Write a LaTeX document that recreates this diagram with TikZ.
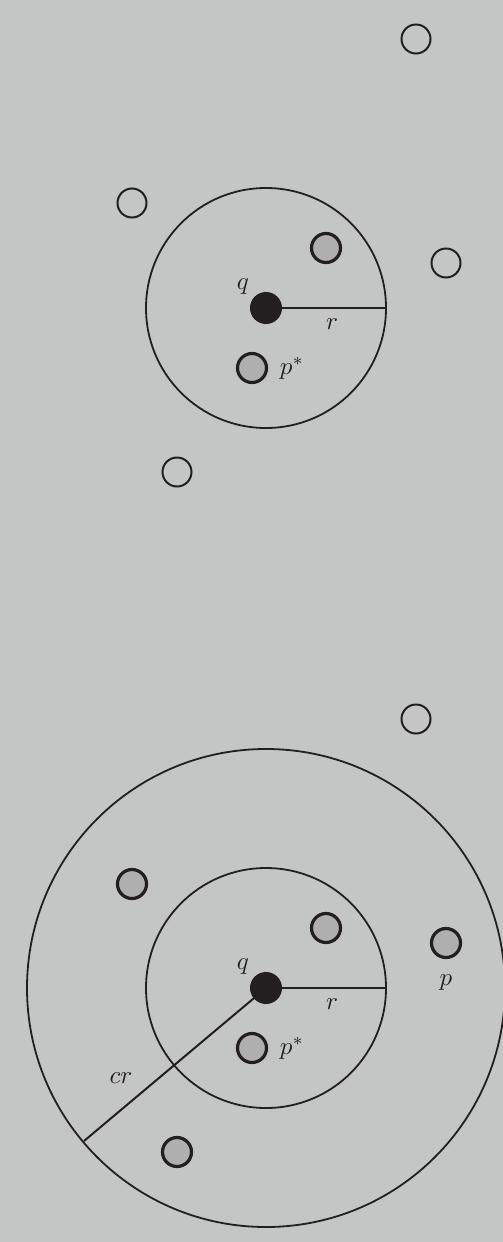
\documentclass[tikz,border=0pt]{standalone}
\definecolor{bgc}{HTML}{C4C6C5}
\definecolor{ptgray}{HTML}{AFAFAF}
\definecolor{ink}{HTML}{231F20}
\begin{document}
\begin{tikzpicture}[x=1pt,y=-1pt,
  hollow/.style={circle,draw=ink,line width=2pt,minimum size=29pt,inner sep=0pt},
  grayp/.style={circle,draw=ink,fill=ptgray,line width=3.2pt,minimum size=29pt,inner sep=0pt},
  query/.style={circle,fill=ink,minimum size=32pt,inner sep=0pt},
  lbl/.style={scale=2.5,inner sep=0pt,text=ink},
  ring/.style={draw=ink,line width=1.8pt},
  radius line/.style={draw=ink,line width=2pt}]
\fill[bgc] (0,0) rectangle (503,1242);
\useasboundingbox (0,0) rectangle (503,1242);
% ---------- top ----------
\coordinate (qt) at (266,308);
\draw[ring] (qt) circle[radius=120];
\coordinate (rt) at (386,308);
\draw[radius line] (qt) -- (rt);
\node[query] (q1) at (qt) {};
\node[hollow] (h1) at (416,39) {};
\node[hollow] (h2) at (132,203) {};
\node[hollow] (h3) at (446,263) {};
\node[hollow] (h4) at (177,472) {};
\node[grayp] (g1) at (326,248) {};
\node[grayp] (ps1) at (252,368) {};
\node[lbl] (lq1) at (243,287) {$q$};
\node[lbl] (lr1) at (332,324) {$r$};
\node[lbl] (lp1) at (292,368) {$p^*$};
% ---------- bottom ----------
\coordinate (qb) at (266,988);
\draw[ring] (qb) circle[radius=120];
\draw[ring] (qb) circle[radius=239];
\coordinate (rb) at (386,988);
\coordinate (crend) at (84,1141);
\draw[radius line] (qb) -- (rb);
\draw[radius line] (qb) -- (crend);
\node[query] (q2) at (qb) {};
\node[hollow] (h5) at (416,719) {};
\node[grayp] (g2) at (132,884) {};
\node[grayp] (g3) at (326,928) {};
\node[grayp] (g4) at (446,943) {};
\node[grayp] (ps2) at (252,1048) {};
\node[grayp] (g5) at (177,1152) {};
\node[lbl] (lq2) at (243,967) {$q$};
\node[lbl] (lr2) at (332,1004) {$r$};
\node[lbl] (lp2) at (292,1048) {$p^*$};
\node[lbl] (lp) at (446,983) {$p$};
\node[lbl] (lcr) at (121,1078) {$cr$};
\end{tikzpicture}
\end{document}
